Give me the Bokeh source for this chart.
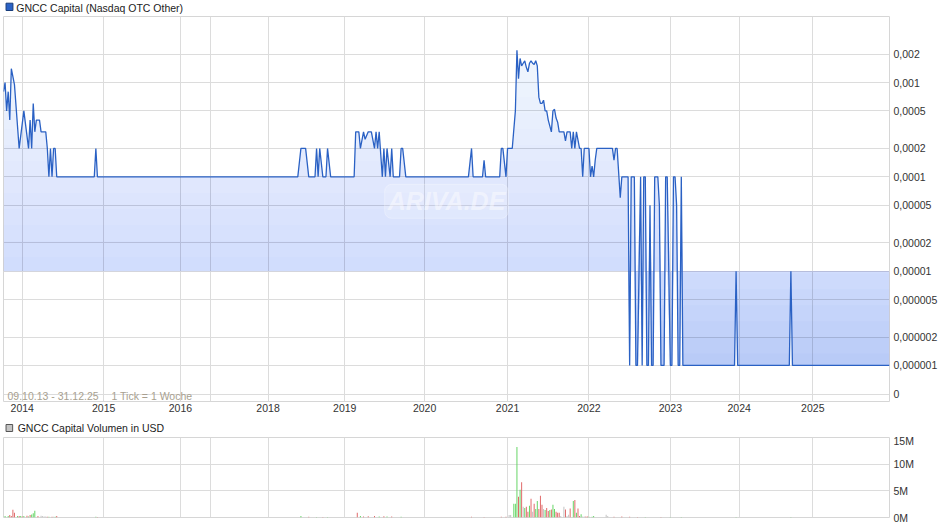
import math
from bokeh.plotting import figure
from bokeh.models import Range1d, FixedTicker, Label, ColumnDataSource
from bokeh.layouts import column
from bokeh.embed import file_html
from bokeh.resources import INLINE
from bokeh.core.properties import value

# ---------------- data (x = week index, "1 Tick = 1 Woche") ----------------
n_weeks = 566
year_tick_weeks = [12, 64, 113, 132, 169, 218, 269, 322, 374, 426, 470, 517]
year_tick_labels = ["2014", "2015", "2016", "", "2018", "2019", "2020", "2021", "2022", "2023", "2024", "2025"]

price_title = "GNCC Capital (Nasdaq OTC Other)"
volume_title = "GNCC Capital Volumen in USD"

price_weeks = [
    0, 1, 2, 3, 4, 5, 7, 10, 13, 16, 17, 18, 19, 20, 21, 23, 24, 27, 28, 29, 30, 31, 32, 33, 34,
    58, 59, 60,
    188, 190, 193, 195, 199, 200, 201, 202, 204, 206, 207, 209,
    224, 225, 227, 228, 230, 231, 233, 235, 237, 238, 239, 240, 242, 243, 244, 245, 247, 248, 249,
    253, 254, 255, 257,
    297, 299, 300, 306, 307, 308, 317, 318, 319, 321, 322, 325, 327, 328,
    329, 330, 331, 332, 333, 334, 335, 336, 337, 338, 339, 340, 341, 342, 343, 344, 345, 346, 347, 348,
    350, 351, 352, 353, 354, 355, 356, 358, 359, 360, 362, 363, 364, 365, 366, 368, 369, 370, 371,
    374, 375, 376, 377, 378, 379, 389, 390, 391, 392, 394, 395, 399,
    400, 401, 403, 404, 405, 407, 408, 409, 410, 411, 412, 413, 414, 415, 416, 418, 419, 420, 422,
    423, 424, 426, 427, 428, 429, 430, 431, 432, 433, 434,
    467, 468, 469, 502, 503, 504, 566,
]
price_usd = [
    0.0008, 0.001, 0.0005, 0.0008, 0.0004, 0.0014, 0.00095, 0.0002, 0.0005, 0.0002, 0.0004, 0.0002,
    0.0006, 0.0003, 0.0004, 0.0004, 0.0003, 0.0003, 0.0002, 0.0001, 0.0002, 0.0001, 0.0002, 0.0002, 0.0001,
    0.0001, 0.0002, 0.0001,
    0.0001, 0.0002, 0.0002, 0.0001, 0.0001, 0.0002, 0.0001, 0.0002, 0.0001, 0.0001, 0.0002, 0.0001,
    0.0001, 0.0003, 0.0003, 0.0002, 0.0003, 0.00025, 0.0003, 0.0003, 0.0002, 0.0003, 0.0002, 0.0003,
    0.0001, 0.0002, 0.0001, 0.0002, 0.0001, 0.0002, 0.0001,
    0.0001, 0.0002, 0.0002, 0.0001,
    0.0001, 0.0002, 0.0001, 0.0001, 0.00015, 0.0001, 0.0001, 0.0002, 0.0002, 0.0001, 0.0002, 0.0002,
    0.0005, 0.0022,
    0.0011, 0.0018, 0.0015, 0.0016, 0.0017, 0.00145, 0.0013, 0.0016, 0.0017, 0.0016, 0.00155, 0.0017,
    0.0015, 0.0007, 0.0006, 0.0006, 0.00065, 0.0005, 0.0005, 0.0004,
    0.0003, 0.0005, 0.00052, 0.00042, 0.00038, 0.0003, 0.0003, 0.0003, 0.00024, 0.0003, 0.0003, 0.0002,
    0.0003, 0.0002, 0.0003, 0.0002, 0.0002, 0.0001, 0.0002,
    0.0002, 0.0001, 0.00013, 0.0001, 0.00015, 0.0002, 0.0002, 0.00015, 0.0002, 0.0002, 0.00006, 0.0001,
    0.0001,
    0.000001, 0.0001, 0.0001, 0.000001, 0.000001, 0.0001, 0.000001, 0.0001, 0.0001, 0.000001, 0.000001,
    0.00005, 0.000001, 0.000001, 0.0001, 0.0001, 0.00005, 0.000001, 0.000001,
    0.0001, 0.0001, 0.000001, 0.000001, 0.0001, 0.0001, 0.00005, 0.000001, 0.000001, 0.0001, 0.000001,
    0.000001, 0.00001, 0.000001, 0.000001, 0.00001, 0.000001, 0.000001,
]
price_ticks = [0.002, 0.001, 0.0005, 0.0002, 0.0001, 0.00005, 0.00002, 0.00001,
               0.000005, 0.000002, 0.000001, 10 ** -6.307]
price_tick_labels = ["0,002", "0,001", "0,0005", "0,0002", "0,0001", "0,00005", "0,00002",
                     "0,00001", "0,000005", "0,000002", "0,000001", "0"]
fill_baseline = 0.00001

vol_weeks = [
    0, 1, 3, 4, 5, 6, 7, 9, 10, 11, 12, 13, 15, 16, 17, 18, 19, 20, 22, 24, 25, 26, 27, 28, 29, 31,
    32, 33, 34, 59, 60,
    190, 195, 200, 204, 207, 226, 228, 230, 233, 237, 240, 243, 245, 248, 254,
    299, 307, 318, 321, 323, 324, 326, 327, 328, 329, 330, 331, 332, 333, 334, 335, 336, 337, 338,
    339, 340, 341, 342, 343, 344, 345, 346, 347, 348, 349, 350, 351, 352, 353, 354, 355, 356, 358,
    359, 360, 361, 362, 364, 365, 366, 367, 368, 369, 370, 371, 372, 373, 374, 376, 377, 385, 386,
    390, 395, 400, 405, 410, 420, 426, 433, 468, 503,
]
vol_musd = [
    0.3, 0.3, 0.3, 0.45, 0.3, 1.45, 0.9, 0.3, 0.3, 0.3, 0.2, 0.3, 0.35, 0.2, 0.45, 0.55, 0.8, 1.26,
    0.3, 0.35, 0.3, 0.2, 0.2, 0.15, 0.15, 0.15, 0.15, 0.15, 0.3, 0.15, 0.1,
    0.3, 0.15, 0.1, 0.1, 0.1, 0.9, 0.3, 0.2, 0.25, 0.3, 0.2, 0.25, 0.2, 0.2, 0.15,
    0.15, 0.1, 0.15, 0.15, 0.45, 0.45, 2.6, 2.6, 13.2, 3.9, 5.2, 6.6, 2.0, 1.8, 2.0, 1.1, 2.2, 3.5,
    1.1, 2.6, 1.6, 3.1, 1.6, 4.1, 2.4, 1.6, 1.4, 1.8, 1.2, 1.4, 1.5, 2.4, 1.6, 1.07, 0.9, 0.9, 0.3,
    2.0, 1.5, 0.3, 0.5, 1.7, 3.1, 3.3, 0.9, 1.7, 0.3, 0.6, 0.2, 0.2, 0.2, 0.2, 0.15, 0.15, 0.3, 0.5,
    0.3, 0.15, 0.2, 0.15, 0.1, 0.1, 0.1, 0.1, 0.1, 0.1, 0.1,
]
vol_dir = [
    "n", "u", "u", "d", "d", "d", "d", "u", "d", "u", "d", "u", "d", "u", "d", "u", "u", "u", "d",
    "n", "n", "n", "n", "d", "u", "d", "n", "u", "d", "u", "d",
    "u", "d", "u", "d", "u", "d", "u", "d", "d", "d", "u", "d", "u", "d", "u",
    "d", "d", "d", "d", "n", "n", "u", "u", "u", "d", "u", "d", "n", "u", "d", "d", "u", "d", "n",
    "d", "u", "u", "d", "d", "d", "n", "u", "d", "d", "u", "d", "u", "u", "d", "d", "d", "n", "n",
    "d", "n", "n", "d", "u", "d", "u", "d", "d", "u", "n", "n", "d", "d", "u", "u", "u", "n", "n",
    "d", "d", "d", "d", "u", "d", "u", "u", "u", "u",
]
vol_ticks = [0, 5, 10, 15]
vol_tick_labels = ["0M", "5M", "10M", "15M"]

# ---------------- styling ----------------
FONT = "Liberation Sans"
W = 940
LEFT, RIGHT = 3, 49
GRID = "#dcdcdc"
LINE = "#2a61c4"
FILL = "#3975e1"
dir_color = {"u": "#62d462", "d": "#e06666", "n": "#c2c2c2"}


def style_common(p):
    p.title.visible = False
    p.outline_line_color = "#d6d6d6"
    p.background_fill_color = "white"
    p.border_fill_color = "white"
    p.grid.grid_line_color = GRID
    p.grid.grid_line_width = 1
    for ax in (p.xaxis[0], p.yaxis[0]):
        ax.axis_label = None
        ax.axis_label_standoff = 0
        ax.axis_line_color = None
        ax.major_tick_line_color = None
        ax.minor_tick_line_color = None
        ax.major_tick_out = 0
        ax.major_tick_in = 0
        ax.minor_tick_out = 0
        ax.major_label_text_font = FONT
        ax.major_label_text_font_size = "10.5px"
        ax.major_label_text_color = "#333333"
    p.yaxis.major_label_standoff = 4
    p.xaxis.major_label_standoff = 2
    xt = FixedTicker(ticks=year_tick_weeks, minor_ticks=[])
    p.xaxis.ticker = xt
    p.xgrid.ticker = xt
    p.xaxis.major_label_overrides = dict(zip(year_tick_weeks, year_tick_labels))


def header(height, text, fill, line, sq_top, sq_bottom, text_x, text_mid):
    # thin strip above a chart: coloured square marker + chart heading (pixel coordinates)
    h = figure(width=W, height=height, x_range=Range1d(0, W), y_range=Range1d(height, 0),
               output_backend="svg", toolbar_location=None, min_border=0)
    h.title.visible = False
    h.axis.visible = False
    h.grid.visible = False
    h.outline_line_color = None
    h.quad(left=[2.7], right=[2.7 + (sq_bottom - sq_top)], top=[sq_top], bottom=[sq_bottom],
           fill_color=fill, line_color=line, line_width=1)
    h.text(x=[text_x], y=[text_mid], text=[text], text_font=value(FONT),
           text_font_size=value("10.5px"), text_color="#222222",
           text_baseline="middle", text_align="left")
    return h


# ---------------- price chart ----------------
ylo, yhi = -6.382, -2.300
H1, TOP1, BOT1 = 404, 0, 19
p1 = figure(width=W, height=H1, x_range=Range1d(0, n_weeks),
            y_range=Range1d(10 ** ylo, 10 ** yhi), y_axis_type="log",
            y_axis_location="right", output_backend="svg", toolbar_location=None,
            min_border_left=LEFT, min_border_right=RIGHT, min_border_top=TOP1, min_border_bottom=BOT1)
style_common(p1)
yt = FixedTicker(ticks=price_ticks, minor_ticks=[])
p1.yaxis.ticker = yt
p1.ygrid.ticker = yt
p1.yaxis.major_label_overrides = dict(zip(price_ticks, price_tick_labels))

# vertical gradient fill between the price line and the baseline (stacked translucent bands)
lo = [min(v, fill_baseline) for v in price_usd]
hi = [max(v, fill_baseline) for v in price_usd]
alpha_stops = [(-2.30, 0.05), (-4.0, 0.14), (-5.0, 0.22), (-6.0, 0.33), (-6.382, 0.37)]


def target_alpha(L):
    for (l0, a0), (l1, a1) in zip(alpha_stops[:-1], alpha_stops[1:]):
        if l1 <= L <= l0:
            t = (l0 - L) / (l0 - l1)
            return a0 + (a1 - a0) * t
    return alpha_stops[-1][1]


nb = 24
prevA = 0.0
step = (yhi - ylo) / nb
for j in range(nb):
    top = yhi - step * j
    A = target_alpha(top - step / 2)
    a = 1 - (1 - A) / (1 - prevA)
    prevA = A
    tv = 10 ** top
    p1.varea(x=price_weeks, y1=[min(v, tv) for v in lo], y2=[min(v, tv) for v in hi],
             fill_color=FILL, fill_alpha=a)

p1.line(price_weeks, price_usd, line_color=LINE, line_width=1.3)

p1.add_layout(Label(x=283, y=5.5e-5, text="ARIVA.DE", text_align="center", text_baseline="middle",
                    text_font=FONT, text_font_style="bold italic", text_font_size="25px",
                    text_color="#ffffff", text_alpha=0.45,
                    background_fill_color="#ffffff", background_fill_alpha=0.18,
                    border_line_color="#ffffff", border_line_alpha=0.3,
                    padding=3, border_radius=7))
p1.add_layout(Label(x=4, y=0, x_units="screen", y_units="screen", text="09.10.13 - 31.12.25",
                    text_font=FONT, text_font_size="10.5px", text_color="#a89f90",
                    text_baseline="bottom"))
p1.add_layout(Label(x=108, y=0, x_units="screen", y_units="screen", text="1 Tick = 1 Woche",
                    text_font=FONT, text_font_size="10.5px", text_color="#a89f90",
                    text_baseline="bottom"))

h1 = header(16, price_title, "#2a62c6", "#183c7a", 2.7, 10.0, 13.5, 7.0)

# ---------------- volume chart ----------------
H2, TOP2, BOT2 = 92, 3, 9
p2 = figure(width=W, height=H2, x_range=p1.x_range, y_range=Range1d(0, 15),
            y_axis_location="right", output_backend="svg", toolbar_location=None,
            min_border_left=LEFT, min_border_right=RIGHT, min_border_top=TOP2, min_border_bottom=BOT2)
style_common(p2)
p2.xaxis.visible = False
vt = FixedTicker(ticks=vol_ticks, minor_ticks=[])
p2.yaxis.ticker = vt
p2.ygrid.ticker = vt
p2.yaxis.major_label_overrides = dict(zip(vol_ticks, vol_tick_labels))

vsrc = ColumnDataSource(dict(w=vol_weeks, v=vol_musd, c=[dir_color[d] for d in vol_dir]))
p2.vbar(x="w", top="v", width=0.62, bottom=0, fill_color="c", line_color=None, source=vsrc)

h2 = header(14, volume_title, "#c4c4c4", "#555555", 4.0, 11.0, 15.0, 7.6)

layout = column(h1, p1, h2, p2, spacing=0)
open("out.html", "w").write(file_html(layout, INLINE))
